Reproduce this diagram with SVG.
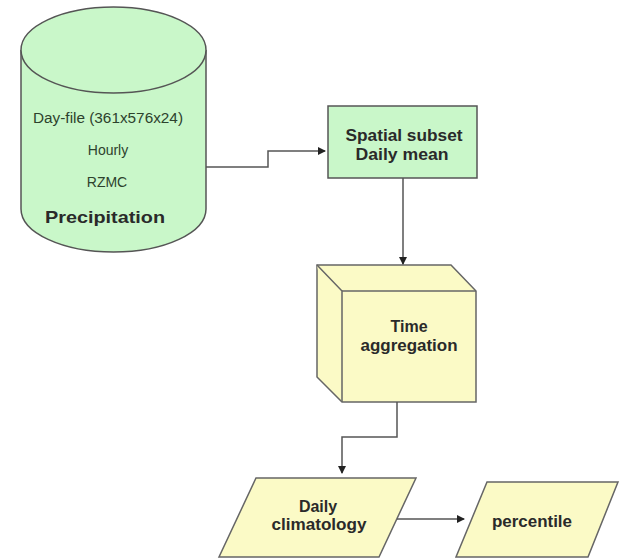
<svg xmlns="http://www.w3.org/2000/svg" width="619" height="560" viewBox="0 0 619 560">
<defs>
<marker id="ah" markerWidth="8" markerHeight="8" refX="7" refY="4" orient="auto" markerUnits="userSpaceOnUse">
<path d="M0,0 L8,4 L0,8 Z" fill="#222"/>
</marker>
<style>
.g{fill:#c9f7c9;stroke:#555;stroke-width:1.5}
.y{fill:#fbfac6;stroke:#666;stroke-width:1.5}
.t{font-family:"Liberation Sans",Arial,sans-serif;font-size:14px;fill:#2d422d;text-anchor:middle}
.b{font-family:"Liberation Sans",Arial,sans-serif;font-size:13px;font-weight:bold;fill:#2a2a2a;text-anchor:middle}
.l{font-size:16px}
.c{fill:none;stroke:#555;stroke-width:1.5}
</style>
</defs>
<rect width="619" height="560" fill="#fff"/>
<g id="precipitation">
<path class="g" d="M21,50 L21,209 A92.5,43 0 0 0 206,209 L206,50"/>
<ellipse class="g" cx="113.5" cy="50" rx="92.5" ry="43"/>
<text class="t" x="108" y="123" textLength="150" lengthAdjust="spacingAndGlyphs">Day-file (361x576x24)</text>
<text class="t" x="108" y="155">Hourly</text>
<text class="t" x="107" y="187">RZMC</text>
<text class="b" x="105" y="223" style="font-size:17px" textLength="120" lengthAdjust="spacingAndGlyphs">Precipitation</text>
</g>
<g id="spatial">
<rect class="g" x="328" y="106" width="149" height="72"/>
<text class="b l" x="404" y="141" textLength="117" lengthAdjust="spacingAndGlyphs">Spatial subset</text>
<text class="b l" x="402" y="160" textLength="93" lengthAdjust="spacingAndGlyphs">Daily mean</text>
</g>
<g id="time">
<path class="y" d="M317,265 L451,265 L476,291 L476,402 L342,402 L317,377 Z"/>
<path class="y" d="M317,265 L342,291 L342,402"/>
<path class="y" d="M342,291 L476,291" />
<text class="b l" x="409" y="332">Time</text>
<text class="b l" x="409" y="351" textLength="97" lengthAdjust="spacingAndGlyphs">aggregation</text>
</g>
<g id="daily">
<path class="y" d="M256,478 L416,478 L379,557 L219,557 Z"/>
<text class="b l" x="318" y="512">Daily</text>
<text class="b l" x="319" y="530" textLength="95" lengthAdjust="spacingAndGlyphs">climatology</text>
</g>
<g id="percentile">
<path class="y" d="M487,482 L618,482 L588,557 L456,557 Z"/>
<text class="b l" x="532" y="527" textLength="80" lengthAdjust="spacingAndGlyphs">percentile</text>
</g>
<g id="connectors">
<path class="c" d="M206,167 L268,167 L268,151 L325,151" marker-end="url(#ah)"/>
<path class="c" d="M403,178 L403,264" marker-end="url(#ah)"/>
<path class="c" d="M397,402 L397,437 L342,437 L342,473" marker-end="url(#ah)"/>
<path class="c" d="M397,519 L464,519" marker-end="url(#ah)"/>
</g>
</svg>
